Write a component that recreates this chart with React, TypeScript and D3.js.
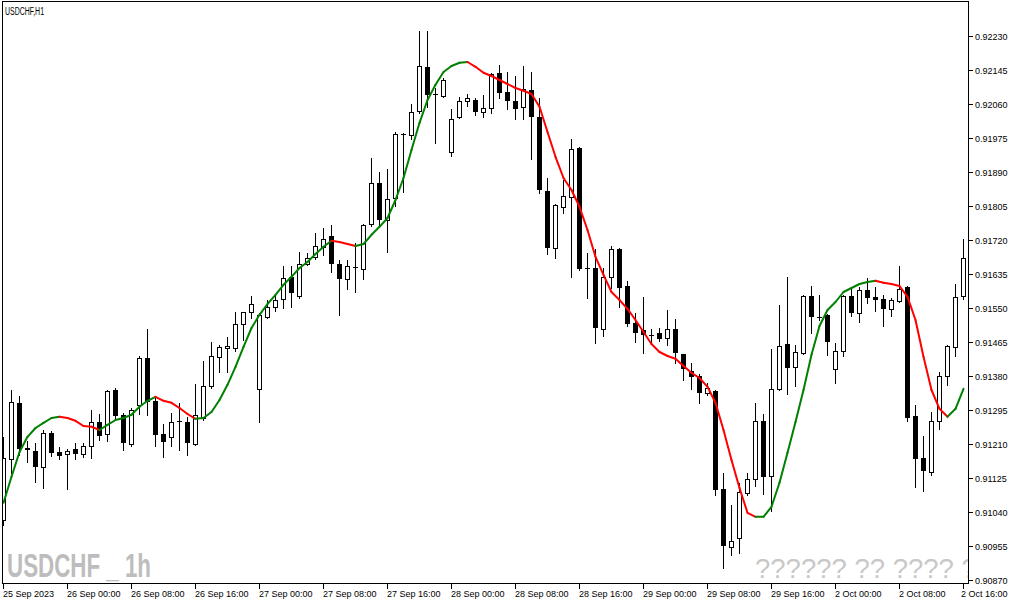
import { useEffect, useRef } from "react"
import * as d3 from "d3"

// USDCHF H1, 25 Sep 2023 16:00 -> 2 Oct 16:00 (121 bars)
const opens = [
  0.9102, 0.91173, 0.91313, 0.91198, 0.91193, 0.91153, 0.91238, 0.9119, 0.91185, 0.91198,
  0.91185, 0.91205, 0.91265, 0.91235, 0.91345, 0.91283, 0.9121, 0.91308, 0.91425, 0.91318,
  0.91235, 0.91228, 0.91268, 0.91265, 0.9121, 0.91275, 0.91355, 0.91428, 0.9145, 0.9145,
  0.9151, 0.9154, 0.91348, 0.91528, 0.91553, 0.91573, 0.91628, 0.9158, 0.9166, 0.91678,
  0.91703, 0.9173, 0.9166, 0.91623, 0.91653, 0.91648, 0.9176, 0.91863, 0.9177, 0.91825,
  0.91985, 0.91983, 0.92043, 0.92153, 0.92085, 0.9208, 0.9194, 0.92028, 0.92068, 0.9207,
  0.9204, 0.9205, 0.92138, 0.9209, 0.92068, 0.92053, 0.92095, 0.92028, 0.91843, 0.917,
  0.91803, 0.91828, 0.9195, 0.9165, 0.9165, 0.91498, 0.91628, 0.91698, 0.91605, 0.91513,
  0.91495, 0.91483, 0.91488, 0.91475, 0.91498, 0.91435, 0.91393, 0.9138, 0.91338, 0.91343,
  0.91098, 0.90953, 0.90975, 0.91088, 0.91123, 0.91268, 0.9113, 0.91348, 0.9146, 0.91403,
  0.91438, 0.9158, 0.91528, 0.91533, 0.91398, 0.91443, 0.9158, 0.91538, 0.91595, 0.91578,
  0.91573, 0.91548, 0.91568, 0.91603, 0.9128, 0.91175, 0.9114, 0.91268, 0.9138, 0.91453,
  0.9158,
]

const highs = [
  0.91228, 0.91345, 0.9133, 0.91218, 0.91213, 0.91245, 0.91243, 0.91203, 0.91198, 0.91213,
  0.91213, 0.91295, 0.91285, 0.91345, 0.9135, 0.91288, 0.913, 0.9143, 0.91498, 0.91325,
  0.9126, 0.91288, 0.91313, 0.91278, 0.9136, 0.91418, 0.91465, 0.91458, 0.91478, 0.9154,
  0.9154, 0.9158, 0.91538, 0.9157, 0.91583, 0.91655, 0.91655, 0.9169, 0.91688, 0.91738,
  0.9175, 0.91758, 0.9167, 0.9167, 0.91713, 0.9176, 0.91925, 0.9189, 0.91898, 0.9199,
  0.91988, 0.9206, 0.92243, 0.92243, 0.921, 0.92125, 0.92048, 0.92078, 0.92085, 0.92075,
  0.92083, 0.92138, 0.92158, 0.9214, 0.9213, 0.92155, 0.9214, 0.92075, 0.91875, 0.9181,
  0.9187, 0.91973, 0.91953, 0.91688, 0.91698, 0.9165, 0.91705, 0.917, 0.91618, 0.91538,
  0.91578, 0.91498, 0.915, 0.91545, 0.91523, 0.91435, 0.91413, 0.91385, 0.91363, 0.91345,
  0.91138, 0.91058, 0.91113, 0.91138, 0.91313, 0.91285, 0.91448, 0.91558, 0.91628, 0.91458,
  0.91583, 0.91605, 0.91583, 0.91535, 0.91463, 0.91583, 0.916, 0.91603, 0.91625, 0.91603,
  0.91583, 0.91575, 0.91655, 0.91605, 0.91308, 0.9123, 0.9129, 0.9139, 0.91458, 0.9161,
  0.91723,
]

const lows = [
  0.91008, 0.91138, 0.91183, 0.91165, 0.91115, 0.911, 0.9118, 0.91173, 0.91098, 0.91173,
  0.91178, 0.91175, 0.9122, 0.91218, 0.91273, 0.91195, 0.91205, 0.91285, 0.91283, 0.91205,
  0.91178, 0.91205, 0.91195, 0.91183, 0.91208, 0.9127, 0.9135, 0.9139, 0.9139, 0.91443,
  0.9147, 0.91525, 0.91265, 0.91525, 0.91543, 0.9155, 0.91553, 0.91575, 0.91658, 0.91673,
  0.91683, 0.9164, 0.91533, 0.91598, 0.9159, 0.91623, 0.91755, 0.91758, 0.9169, 0.91805,
  0.9184, 0.91973, 0.92038, 0.92053, 0.91963, 0.92078, 0.9193, 0.92025, 0.92055, 0.92033,
  0.92028, 0.92038, 0.92075, 0.92048, 0.92023, 0.92023, 0.91923, 0.91838, 0.91685, 0.91675,
  0.91788, 0.91628, 0.91645, 0.91575, 0.91463, 0.9148, 0.916, 0.91553, 0.91505, 0.91465,
  0.91438, 0.91463, 0.91468, 0.91458, 0.91413, 0.9137, 0.91348, 0.91313, 0.91333, 0.91083,
  0.909, 0.90933, 0.90938, 0.91083, 0.91105, 0.91085, 0.91043, 0.91345, 0.91335, 0.91355,
  0.91435, 0.91488, 0.9152, 0.91433, 0.91363, 0.9143, 0.9153, 0.91515, 0.91563, 0.91543,
  0.91505, 0.9153, 0.91565, 0.91268, 0.91103, 0.91093, 0.91133, 0.91248, 0.91358, 0.9143,
  0.91573,
]

const closes = [
  0.91175, 0.91315, 0.91198, 0.912, 0.91153, 0.91238, 0.91188, 0.9118, 0.91193, 0.91185,
  0.91205, 0.91265, 0.9123, 0.91343, 0.9128, 0.91213, 0.91295, 0.91425, 0.91315, 0.91233,
  0.91215, 0.91265, 0.91265, 0.91213, 0.91283, 0.91355, 0.9143, 0.91453, 0.91455, 0.9151,
  0.9154, 0.9156, 0.91533, 0.91553, 0.9157, 0.91625, 0.91588, 0.9166, 0.91675, 0.91705,
  0.91723, 0.9166, 0.91623, 0.91655, 0.9165, 0.91758, 0.91863, 0.9177, 0.91823, 0.91985,
  0.91983, 0.9204, 0.92155, 0.92083, 0.92083, 0.9212, 0.92023, 0.92068, 0.92075, 0.9204,
  0.9205, 0.92135, 0.92088, 0.92068, 0.92048, 0.92098, 0.92028, 0.91845, 0.917, 0.91808,
  0.9183, 0.91948, 0.91648, 0.91648, 0.915, 0.91628, 0.91698, 0.916, 0.9151, 0.91488,
  0.91483, 0.9148, 0.91473, 0.91498, 0.91438, 0.91398, 0.91378, 0.91338, 0.9135, 0.91095,
  0.90955, 0.90968, 0.9109, 0.91123, 0.91268, 0.91128, 0.91348, 0.91455, 0.914, 0.9144,
  0.9158, 0.91528, 0.91525, 0.91465, 0.91443, 0.9158, 0.91538, 0.91595, 0.91575, 0.9157,
  0.91548, 0.9157, 0.91598, 0.91275, 0.91173, 0.91143, 0.91268, 0.9138, 0.91455, 0.91578,
  0.91675,
]

// smoothed moving average, green while rising, red while falling
const maValues = [
  0.91063, 0.91128, 0.9119, 0.91228, 0.9125, 0.91263, 0.91275, 0.91278, 0.91275, 0.91268,
  0.91255, 0.91253, 0.91245, 0.91258, 0.9127, 0.91275, 0.91283, 0.91303, 0.91318, 0.91328,
  0.91318, 0.91313, 0.913, 0.91285, 0.91273, 0.91275, 0.9129, 0.9132, 0.91358, 0.91403,
  0.91453, 0.915, 0.91533, 0.9156, 0.91583, 0.91608, 0.91628, 0.9165, 0.91665, 0.91685,
  0.91703, 0.91718, 0.91715, 0.9171, 0.91705, 0.9171, 0.91733, 0.91753, 0.91775, 0.9182,
  0.91875, 0.91945, 0.92013, 0.9207, 0.92108, 0.9214, 0.92155, 0.92163, 0.92165, 0.92153,
  0.92138, 0.9213, 0.9212, 0.9211, 0.921, 0.92093, 0.92085, 0.92053, 0.9199, 0.91928,
  0.91875, 0.91845, 0.91803, 0.91745, 0.91678, 0.91633, 0.9159, 0.9157, 0.91548, 0.9152,
  0.9149, 0.9146, 0.9144, 0.9143, 0.91423, 0.91405, 0.91388, 0.91375, 0.91353, 0.91313,
  0.91245, 0.9117, 0.911, 0.91038, 0.91028, 0.91028, 0.91053, 0.91113, 0.91188, 0.91265,
  0.91345, 0.91433, 0.91505, 0.91545, 0.91565, 0.9159, 0.916, 0.9161, 0.91615, 0.91618,
  0.91613, 0.9161, 0.91605, 0.91578, 0.9152, 0.91428, 0.91345, 0.91298, 0.91278, 0.91298,
  0.91348,
]

const timeLabels = [
  "25 Sep 2023", "26 Sep 00:00", "26 Sep 08:00", "26 Sep 16:00", "27 Sep 00:00", "27 Sep 08:00",
  "27 Sep 16:00", "28 Sep 00:00", "28 Sep 08:00", "28 Sep 16:00", "29 Sep 00:00", "29 Sep 08:00",
  "29 Sep 16:00", "2 Oct 00:00", "2 Oct 08:00", "2 Oct 16:00",
]
const timeLabelBars = [0, 8, 16, 24, 32, 40, 48, 56, 64, 72, 80, 88, 96, 104, 112, 120]

const priceTicks = [
  0.9223, 0.92145, 0.9206, 0.91975, 0.9189, 0.91805, 0.9172, 0.91635, 0.9155,
  0.91465, 0.9138, 0.91295, 0.9121, 0.91125, 0.9104, 0.90955, 0.9087,
]

const FONT = "'Liberation Sans', Arial, sans-serif"

export default function App() {
  const svgRef = useRef<SVGSVGElement>(null)

  useEffect(() => {
    const svg = d3.select(svgRef.current)
    svg.selectAll("*").remove()

    const width = 1015
    const height = 605
    const frame = { left: 2.5, top: 1.5, right: 968.5, bottom: 583.5 }

    const x = d3.scaleLinear().domain([0, closes.length - 1]).range([3.5, 963.5])
    const y = d3.scaleLinear().domain([0.9087, 0.9223]).range([580, 36])
    const py = (v: number) => Math.round(y(v))

    svg.append("rect").attr("width", width).attr("height", height).attr("fill", "#fff")

    svg.append("defs")
      .append("clipPath")
      .attr("id", "plot-clip")
      .append("rect")
      .attr("x", 3)
      .attr("y", 2)
      .attr("width", 965)
      .attr("height", 581)

    const g = svg.append("g").attr("clip-path", "url(#plot-clip)")

    // watermarks
    g.append("text")
      .text("USDCHF _ 1h")
      .attr("x", 7)
      .attr("y", 577)
      .attr("font-family", "'Liberation Sans Narrow', 'Liberation Sans', Arial, sans-serif")
      .attr("font-weight", "bold")
      .attr("font-size", 34)
      .attr("fill", "#bdbdbd")
      .attr("textLength", 144)
      .attr("lengthAdjust", "spacingAndGlyphs")

    g.append("text")
      .text("?????? ?? ???? ?")
      .attr("x", 755)
      .attr("y", 578)
      .attr("font-family", FONT)
      .attr("font-size", 27.5)
      .attr("fill", "#c8c8c8")

    const bars = closes.map((c, i) => ({ i, o: opens[i], h: highs[i], l: lows[i], c }))

    const candles = g.append("g").attr("shape-rendering", "crispEdges")

    // wicks
    candles.selectAll(".wick")
      .data(bars)
      .enter()
      .append("line")
      .attr("class", "wick")
      .attr("x1", (d) => x(d.i))
      .attr("x2", (d) => x(d.i))
      .attr("y1", (d) => py(d.h))
      .attr("y2", (d) => py(d.l) + 1)
      .attr("stroke", "#000")
      .attr("stroke-width", 1)

    // bearish / doji bodies
    candles.selectAll(".down")
      .data(bars.filter((d) => d.c <= d.o))
      .enter()
      .append("rect")
      .attr("class", "down")
      .attr("x", (d) => x(d.i) - 2.5)
      .attr("y", (d) => py(d.o))
      .attr("width", 5)
      .attr("height", (d) => Math.max(1, py(d.c) - py(d.o)))
      .attr("fill", "#000")

    // bullish bodies
    candles.selectAll(".up")
      .data(bars.filter((d) => d.c > d.o))
      .enter()
      .append("rect")
      .attr("class", "up")
      .attr("x", (d) => x(d.i) - 2)
      .attr("y", (d) => py(d.c) + 0.5)
      .attr("width", 4)
      .attr("height", (d) => Math.max(1, py(d.o) - py(d.c)))
      .attr("fill", "#fff")
      .attr("stroke", "#000")
      .attr("stroke-width", 1)

    // moving average, coloured by direction
    const line = d3.line<[number, number]>()
    const segs = maValues.slice(1).map((v, k) => ({ a: maValues[k], b: v, i: k + 1 }))
    g.append("g")
      .selectAll("path")
      .data(segs)
      .enter()
      .append("path")
      .attr("d", (d) => line([[x(d.i - 1), y(d.a)], [x(d.i), y(d.b)]]))
      .attr("fill", "none")
      .attr("stroke", (d) => (d.b >= d.a ? "#008000" : "#ff0000"))
      .attr("stroke-width", 2)
      .attr("stroke-linecap", "round")

    // frame
    svg.append("rect")
      .attr("x", frame.left)
      .attr("y", frame.top)
      .attr("width", frame.right - frame.left)
      .attr("height", frame.bottom - frame.top)
      .attr("fill", "none")
      .attr("stroke", "#000")
      .attr("shape-rendering", "crispEdges")

    // symbol label
    svg.append("text")
      .text("USDCHF,H1")
      .attr("x", 5)
      .attr("y", 15)
      .attr("font-family", FONT)
      .attr("font-size", 10)
      .attr("fill", "#000")
      .attr("textLength", 39)
      .attr("lengthAdjust", "spacingAndGlyphs")

    // price axis
    const pAxis = svg.append("g")
    pAxis.selectAll("line")
      .data(priceTicks)
      .enter()
      .append("line")
      .attr("x1", frame.right)
      .attr("x2", frame.right + 4)
      .attr("y1", (d) => py(d) + 0.5)
      .attr("y2", (d) => py(d) + 0.5)
      .attr("stroke", "#000")
      .attr("shape-rendering", "crispEdges")
    pAxis.selectAll("text")
      .data(priceTicks)
      .enter()
      .append("text")
      .text((d) => d.toFixed(5))
      .attr("x", 975)
      .attr("y", (d) => py(d) + 3.5)
      .attr("font-family", FONT)
      .attr("font-size", 9)
      .attr("fill", "#000")

    // time axis
    const tAxis = svg.append("g")
    tAxis.selectAll("line")
      .data(timeLabelBars)
      .enter()
      .append("line")
      .attr("x1", (d) => x(d))
      .attr("x2", (d) => x(d))
      .attr("y1", frame.bottom)
      .attr("y2", frame.bottom + 5)
      .attr("stroke", "#000")
      .attr("shape-rendering", "crispEdges")
    tAxis.selectAll("text")
      .data(timeLabelBars)
      .enter()
      .append("text")
      .text((_, k) => timeLabels[k])
      .attr("x", (d) => Math.min(x(d) - 0.5, 1015 - 54))
      .attr("y", 597)
      .attr("font-family", FONT)
      .attr("font-size", 9)
      .attr("fill", "#000")
  }, [])

  return (
    <svg
      ref={svgRef}
      width={1015}
      height={605}
      style={{ position: "absolute", left: 0, top: 0, display: "block" }}
    />
  )
}
